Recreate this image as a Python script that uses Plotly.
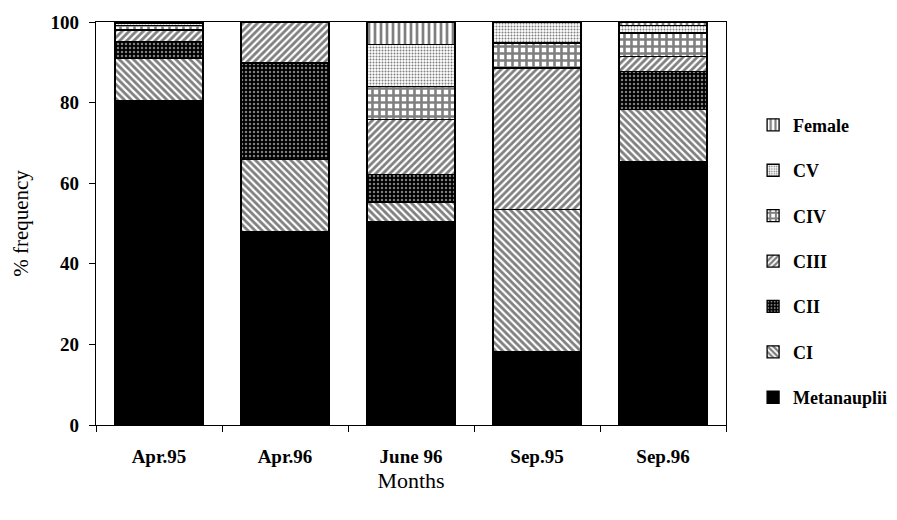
import plotly.graph_objects as go

months = ["Apr.95", "Apr.96", "June 96", "Sep.95", "Sep.96"]

metanauplii = [80.5, 47.9, 50.5, 18.1, 65.4]
ci          = [10.5, 17.9, 4.8, 35.3, 12.9]
cii         = [4.2, 24.0, 6.8, 0.0, 9.5]
ciii        = [2.8, 10.2, 13.7, 35.2, 3.7]
civ         = [1.2, 0.0, 8.2, 6.2, 5.8]
cv          = [0.4, 0.0, 10.4, 5.2, 1.8]
female      = [0.4, 0.0, 5.6, 0.0, 0.9]

y_ticks = [0, 20, 40, 60, 80, 100]

series = [
    ("Metanauplii", metanauplii, dict(shape="", bgcolor="black", fgcolor="black")),
    ("CI", ci, dict(shape="\\", bgcolor="white", fgcolor="black", size=5, solidity=0.55)),
    ("CII", cii, dict(shape=".", bgcolor="black", fgcolor="white", size=4, solidity=0.3)),
    ("CIII", ciii, dict(shape="/", bgcolor="white", fgcolor="black", size=5, solidity=0.55)),
    ("CIV", civ, dict(shape="+", bgcolor="white", fgcolor="black", size=7, solidity=0.6)),
    ("CV", cv, dict(shape=".", bgcolor="white", fgcolor="black", size=3, solidity=0.35)),
    ("Female", female, dict(shape="|", bgcolor="white", fgcolor="black", size=6, solidity=0.45)),
]

fig = go.Figure()
n = len(series)
for i, (name, vals, pat) in enumerate(series):
    fig.add_trace(go.Bar(
        x=months, y=vals, name=name,
        legendgroup=name, legendrank=n - i,
        marker=dict(color=pat["bgcolor"], pattern=dict(fillmode="overlay", **pat),
                    line=dict(color="black", width=1.3)),
    ))

font_family = "Liberation Serif"
fig.update_layout(
    width=897, height=520,
    margin=dict(l=88, r=179, t=14, b=103, autoexpand=False),
    barmode="stack", bargap=0.30,
    plot_bgcolor="white", paper_bgcolor="white",
    font=dict(family=font_family, size=16, color="black"),
    showlegend=True,
    legend=dict(x=1.043, y=0.79, xanchor="left", yanchor="top",
                font=dict(family=font_family, size=18, color="black", weight="bold"),
                tracegroupgap=19, bgcolor="rgba(0,0,0,0)"),
    xaxis=dict(
        title=dict(text="Months", font=dict(family=font_family, size=22), standoff=6),
        showline=True, linecolor="black", linewidth=1.3, mirror=True,
        ticks="outside", ticklen=6, tickcolor="black", tickson="boundaries",
        ticklabelstandoff=14, automargin=False,
        tickfont=dict(family=font_family, size=19, weight="bold"),
    ),
    yaxis=dict(
        title=dict(text="% frequency", font=dict(family=font_family, size=21), standoff=16),
        range=[0, 100], tickvals=y_ticks,
        showline=True, linecolor="black", linewidth=1.3, mirror=True,
        ticks="outside", ticklen=6, tickcolor="black", showgrid=False, zeroline=False,
        ticklabelstandoff=6, automargin=False,
        tickfont=dict(family=font_family, size=19, weight="bold"),
    ),
)

fig.write_html("out.html")
